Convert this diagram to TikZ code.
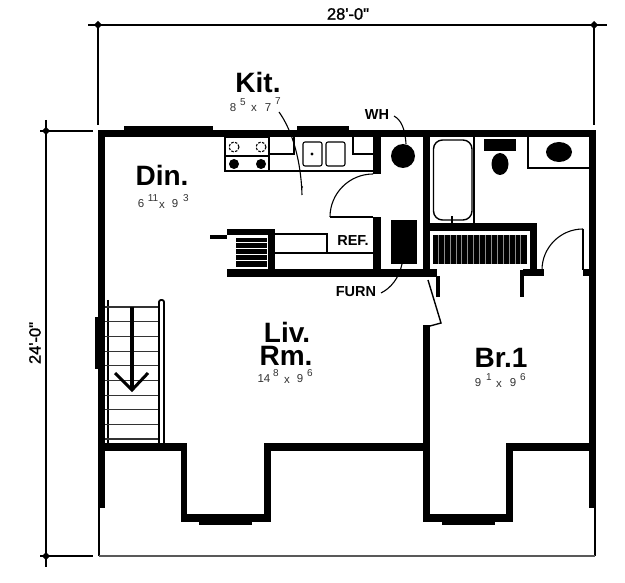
\documentclass[tikz,border=0pt]{standalone}
\usepackage{fontspec}
\setmainfont{Liberation Sans}
\newfontfamily\semibold[FakeBold=1.2]{Liberation Sans}
\tikzset{
  wallfill/.style={fill=black},
  thinline/.style={draw=black,line width=1.1pt},
  medline/.style={draw=black,line width=1.4pt},
  dimline/.style={draw=black,line width=1.8pt},
  greyline/.style={draw=black!65,line width=1.2pt},
  tread/.style={draw=black!80,line width=1.1pt},
  roomname/.style={font=\fontsize{28}{28}\selectfont\bfseries,inner sep=0pt,anchor=base},
  note/.style={font=\fontsize{14.5}{15}\selectfont\bfseries,inner sep=0pt,text=black},
  dimtext/.style={font=\fontsize{16.5}{17}\selectfont\semibold,inner sep=0pt},
  sizetext/.style={font=\fontsize{11.5}{12}\selectfont,inner sep=0pt,text=black!80},
  suptext/.style={font=\fontsize{10}{11}\selectfont,inner sep=0pt,text=black!80},
}
\begin{document}
\begin{tikzpicture}[x=1pt,y=-1pt]
\useasboundingbox (0,0) rectangle (625,583);
\fill[white] (0,0) rectangle (625,583);
% dimensions
\coordinate (dl) at (98,25); \coordinate (dr) at (594,25);
\coordinate (vt) at (46,131); \coordinate (vb) at (46,556);
\draw[dimline] (88,25) -- (607,25);
\draw[dimline] (dl) -- (98,125);
\draw[dimline] (dr) -- (594,125);
\draw[dimline] (40,131) -- (93,131);
\draw[dimline] (40,556) -- (93,556);
\draw[dimline] (46,120) -- (46,567);
\foreach \p in {dl,dr,vt,vb}{
  \fill (\p) ++(-4,0) -- ++(4,-4) -- ++(4,4) -- ++(-4,4) -- cycle;
}
\node[dimtext] (wdim) at (348,14) {28'-0"};
\node[dimtext,rotate=90] (hdim) at (35,343) {24'-0"};
% outer walls
\fill[wallfill] (98,130) rectangle (596,137);
\fill[wallfill] (98,130) rectangle (105,508);
\fill[wallfill] (589,130) rectangle (596,508);
\fill[wallfill] (124,126) rectangle (213,135);
\fill[wallfill] (297,126) rectangle (349,135);
\fill[wallfill] (95,317) rectangle (105,369);
% dormer walls
\fill[wallfill] (105,443) rectangle (187,451);
\fill[wallfill] (181,443) rectangle (187,522);
\fill[wallfill] (181,514) rectangle (271,522);
\fill[wallfill] (264,443) rectangle (271,522);
\fill[wallfill] (264,443) rectangle (423,451);
\fill[wallfill] (199,515) rectangle (252,525);
\fill[wallfill] (423,325) rectangle (430,522);
\fill[wallfill] (423,514) rectangle (513,522);
\fill[wallfill] (506,443) rectangle (513,522);
\fill[wallfill] (506,443) rectangle (589,451);
\fill[wallfill] (442,515) rectangle (495,525);
% thin outline of the lower roof
\draw[thinline] (99,508) -- (99,556);
\draw[thinline] (595,508) -- (595,556);
\draw[greyline] (99,556) -- (595,556);
% interior walls
\fill[wallfill] (227,269) rectangle (437,277);
\fill[wallfill] (373,137) rectangle (381,174);
\fill[wallfill] (373,217) rectangle (381,270);
\fill[wallfill] (423,137) rectangle (430,276);
\fill[wallfill] (227,229) rectangle (275,235);
\fill[wallfill] (268,229) rectangle (275,270);
\fill[wallfill] (210,235) rectangle (227,239);
\fill[wallfill] (430,223) rectangle (537,231);
\fill[wallfill] (530,223) rectangle (537,270);
\fill[wallfill] (523,269) rectangle (544,276);
\fill[wallfill] (520,270) rectangle (524,297);
\fill[wallfill] (436,276) rectangle (440,297);
\fill[wallfill] (583,269) rectangle (589,276);
% kitchen
\draw[thinline] (225,137) rectangle (269,171);
\draw[thinline] (225,156) -- (269,156);
\draw[thinline,dash pattern=on 2.5pt off 1.5pt] (234,147) circle (5);
\draw[thinline,dash pattern=on 2.5pt off 1.5pt] (261,147) circle (5);
\fill (234,164) circle (5);
\fill (261,164) circle (5);
\draw[thinline] (269,171) -- (373,171);
\draw[thinline] (269,154) -- (294,154) -- (294,137);
\draw[thinline,rounded corners=2pt] (303,142) rectangle (322,166);
\draw[thinline,rounded corners=2pt] (326,142) rectangle (345,166);
\fill (312,154) circle (1.7);
\draw[thinline] (353,137) -- (353,154) -- (373,154);
\draw[medline] (330,217) -- (373,217);
\draw[thinline] (330,217) .. controls (330,193.3) and (349.3,174) .. (373,174);
% ref and shelf
\fill (236,238) rectangle (267,267);
\foreach \y in {243,249,255,261}{ \draw[white,line width=1pt] (236,\y) -- (267,\y); }
\draw[thinline] (275,234) -- (327,234) -- (327,253);
\draw[thinline] (275,253) -- (373,253);
% water heater and furnace
\fill (403,156) circle (12);
\fill (391,220) rectangle (417,264);
% bath
\draw[thinline] (474,137) -- (474,223);
\draw[medline,rounded corners=9pt] (433.5,140) rectangle (472,220);
\fill (451,216) rectangle (453,223);
\fill (484,139) rectangle (516,151);
\fill (500,164) ellipse (8.5 and 11);
\draw[thinline] (528,137) -- (528,168) -- (589,168);
\fill (559,152) ellipse (13 and 10);
% closet
\fill (433,235) rectangle (527,264);
\foreach \i in {0,...,14}{ \draw[black!45,line width=1pt] ({438.3+5.9*\i},235) -- ({438.3+5.9*\i},264); }
% bedroom doors
\draw[line width=2pt] (583,229) -- (583,270);
\draw[thinline] (583,229) .. controls (560.4,229) and (542,247.4) .. (542,270);
\draw[medline] (428,280) -- (441,323) -- (430,326);
% stairs
\draw[thinline,line width=1.2pt] (108,300) -- (108,443);
\foreach \y in {307,321.7,336.4,351.1,365.8,380.5,395.2,409.9,424.6,439}{ \draw[tread] (105,\y) -- (158,\y); }
\draw[line width=1.8pt,rounded corners=2pt] (159,443) -- (159,300) -- (164,300) -- (164,443);
\draw[line width=3.5pt] (132,307) -- (132,390);
\draw[line width=3pt,miter limit=10] (115,373) -- (132,390) -- (148,373);
% room names
\node[roomname] (din) at (162,186) {Din.};
\node[roomname] (kit) at (258,93) {Kit.};
\node[roomname] (liv) at (287,343) {Liv.};
\node[roomname] (rm) at (286,366) {Rm.};
\node[roomname] (br) at (501,367) {Br.1};
% sizes
\node[sizetext] (k1) at (233,108) {8};
\node[suptext] (k2) at (243,102) {5};
\node[sizetext] (k3) at (254,108) {x};
\node[sizetext] (k4) at (268,108) {7};
\node[suptext] (k5) at (278,101) {7};
\node[sizetext] (d1) at (141,204) {6};
\node[suptext] (d2) at (153,198) {11};
\node[sizetext] (d3) at (162,205) {x};
\node[sizetext] (d4) at (175,204) {9};
\node[suptext] (d5) at (186,198) {3};
\node[sizetext] (l1) at (264,379) {14};
\node[suptext] (l2) at (276,373) {8};
\node[sizetext] (l3) at (287,380) {x};
\node[sizetext] (l4) at (300,379) {9};
\node[suptext] (l5) at (310,373) {6};
\node[sizetext] (b1) at (478,383) {9};
\node[suptext] (b2) at (489,377) {1};
\node[sizetext] (b3) at (499,384) {x};
\node[sizetext] (b4) at (513,383) {9};
\node[suptext] (b5) at (523,377) {6};
% notes and leaders
\node[note] (ref) at (353,240.5) {REF.};
\node[note] (wh) at (377,115) {WH};
\node[note] (furn) at (356,292) {FURN};
\coordinate (whend) at (406,144);
\coordinate (furnend) at (402,264);
\coordinate (kitstart) at (279,112);
\coordinate (kitend) at (302,195);
\draw[thinline] (394,116) .. controls (401,120) and (405,128) .. (whend);
\draw[thinline] (381,293) .. controls (391,288) and (399,278) .. (furnend);
\draw[thinline] (kitstart) .. controls (292,130) and (301,160) .. (kitend);
\fill (302,187) circle (1.2);
\end{tikzpicture}
\end{document}
